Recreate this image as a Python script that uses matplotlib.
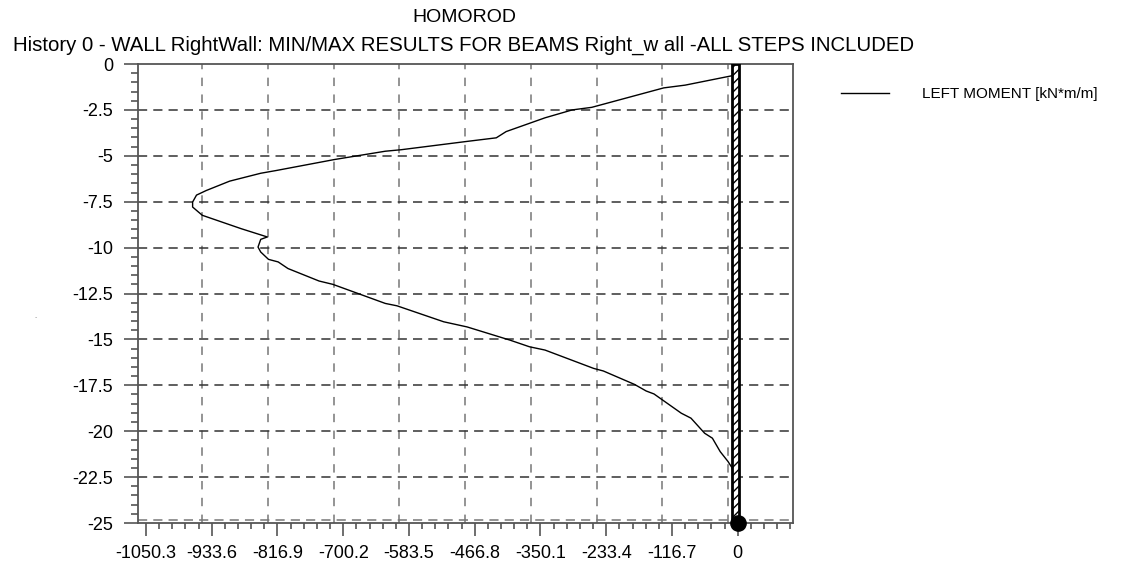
import numpy as np
import matplotlib
matplotlib.use("Agg")
import matplotlib.pyplot as plt
from matplotlib import font_manager
from matplotlib.patches import Rectangle
from matplotlib.ticker import FixedLocator

plt.rcParams['font.family'] = ['Liberation Sans', 'DejaVu Sans']

# Moment envelope along the wall (depth in m, moment in kN*m/m)
depth = [-0.5, -0.64, -1.15, -1.30, -2.36, -2.50, -2.93, -3.68, -4.02, -4.22,
         -4.67, -4.75, -5.20, -5.80, -5.95, -6.38, -6.89, -7.14, -7.52, -7.79,
         -8.24, -8.97, -9.42, -9.55, -9.97, -10.24, -10.64, -10.78, -11.14,
         -11.82, -12.00, -13.04, -13.17, -14.04, -14.32, -15.04, -15.40, -15.58,
         -16.58, -16.72, -17.45, -17.81, -17.97, -19.02, -19.29, -20.11, -20.38,
         -21.11, -21.65, -21.98, -22.8, -23.6, -25.0]
moment = [-6.0, -10.3, -93.2, -131.2, -259.1, -293.7, -342.0, -411.0, -428.5, -481.7,
          -597.8, -625.5, -715.3, -819.0, -846.6, -901.8, -943.3, -960.6, -967.5, -967.5,
          -950.3, -881.2, -834.9, -846.6, -851.4, -846.6, -832.8, -815.6, -798.2,
          -743.0, -718.7, -625.5, -604.7, -521.8, -480.3, -404.1, -369.7, -342.0,
          -255.6, -238.4, -183.2, -162.4, -148.6, -100.1, -82.9, -58.7, -44.9,
          -31.1, -17.2, -10.3, -3.4, -5.0, -6.0]

x_ticks = [-1050.3, -933.6, -816.9, -700.2, -583.5, -466.8, -350.1, -233.4, -116.7, 0.0]
x_labels = ['-1050.3', '-933.6', '-816.9', '-700.2', '-583.5', '-466.8',
            '-350.1', '-233.4', '-116.7', '0']
y_ticks = [0, -2.5, -5, -7.5, -10, -12.5, -15, -17.5, -20, -22.5, -25]
y_labels = ['0', '-2.5', '-5', '-7.5', '-10', '-12.5', '-15', '-17.5', '-20', '-22.5', '-25']

fig = plt.figure(figsize=(11.35, 5.68), dpi=100)
ax = fig.add_axes([0.1216, 0.0792, 0.5771, 0.8081])
ax.set_xlim(-1064.4, 98.2)
ax.set_ylim(-25.0, 0.0)

# dashed grid (vertical lines sit a bit left of the labelled ticks, as in the original)
for xt in x_ticks[1:]:
    ax.axvline(xt - 16.9, color='#777777', lw=1.1, dashes=(5.5, 5.5), zorder=1)
for yt in y_ticks[1:-1]:
    ax.axhline(yt, color='#333333', lw=1.1, dashes=(6, 4), zorder=1)
ax.axhline(-24.85, color='#777777', lw=1.1, dashes=(6, 4), zorder=1)

ax.plot(moment, depth, color='black', lw=1.0, zorder=3, label='LEFT MOMENT [kN*m/m]')

# the wall itself
wall = Rectangle((-11, -25), 14, 25, facecolor='white', edgecolor='black',
                 hatch='////', lw=2.0, zorder=4)
ax.add_patch(wall)
ax.plot([0], [-25], 'o', color='black', markersize=11, zorder=5, clip_on=False)

# ticks
ax.xaxis.set_major_locator(FixedLocator(x_ticks))
ax.set_xticklabels(x_labels)
ax.xaxis.set_minor_locator(FixedLocator(np.arange(-1050.3, 99, 23.34)))
ax.yaxis.set_major_locator(FixedLocator(y_ticks))
ax.set_yticklabels(y_labels)
ax.yaxis.set_minor_locator(FixedLocator(np.arange(0, -25.1, -0.5)))
ax.tick_params(axis='x', which='major', direction='out', length=9, width=1.2,
               color='#555555', labelsize=13, pad=7)
ax.tick_params(axis='x', which='minor', direction='out', length=4, width=1.2, color='#555555')
ax.tick_params(axis='y', which='major', direction='out', length=10, width=1.2,
               color='#555555', labelsize=13, pad=8)
ax.tick_params(axis='y', which='minor', direction='out', length=5, width=1.2, color='#555555')
for side in ['left', 'bottom', 'top', 'right']:
    ax.spines[side].set_color('#555555')
    ax.spines[side].set_linewidth(1.3)

fig.text(0.409, 1 - 18 / 568, 'HOMOROD', ha='center', va='center', fontsize=14)
fig.text(0.408, 1 - 45 / 568,
         'History 0 - WALL RightWall: MIN/MAX RESULTS FOR BEAMS Right_w all -ALL STEPS INCLUDED',
         ha='center', va='center', fontsize=14.7)

# legend text in the original is narrow and tall
names = {f.name for f in font_manager.fontManager.ttflist}
if 'Liberation Sans Narrow' in names:
    leg_font = {'family': 'Liberation Sans Narrow', 'size': 13}
else:
    leg_font = {'family': 'Liberation Sans', 'size': 11}

fig.legend(loc='upper left', bbox_to_anchor=(0.736, 0.857), frameon=False,
           prop=leg_font, handlelength=3.1, handletextpad=2.2, borderaxespad=0)

fig.text(0.032, 1 - 318 / 568, '-', fontsize=5, color='#999999', ha='center', va='center')

fig.savefig('out.png', dpi=100)
